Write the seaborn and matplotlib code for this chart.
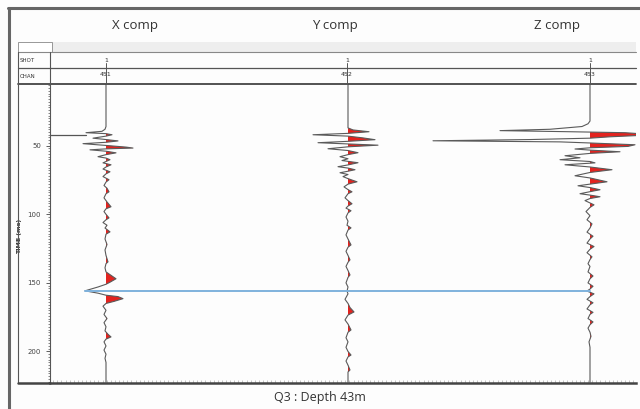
"""
VSP three-component wiggle display, Q3 : Depth 43m
"""

import matplotlib
matplotlib.use("Agg")
import matplotlib.pyplot as plt
from matplotlib import ticker
from matplotlib.lines import Line2D
import numpy as np
import pandas as pd
import seaborn as sns

sns.set_style("white")
plt.rcParams["font.family"] = ["DejaVu Sans"]

# ---- data (time in ms, amplitude as trace deflection) ----
components = ["X comp", "Y comp", "Z comp"]
shots = ["1", "1", "1"]
channels = ["451", "452", "453"]

x_time = [5, 36, 38, 39.5, 40.5, 41.2, 42, 43, 44.5, 45.5, 46.5, 47.5, 48.5, 49.8, 51, 51.7, 52.3, 53,
          54, 55.2, 56.5, 58, 59, 60.2, 61.5, 62.5, 63.9, 65.5, 67, 69, 70.5, 72.5, 74.8, 76.5, 79, 81,
          83.6, 85, 88, 91, 94.5, 96, 98, 100, 102.6, 104, 106, 108, 110, 112.8, 114.5, 118, 122, 126,
          130, 134.7, 136, 139, 142, 144, 147, 149.5, 151, 153, 155.8, 157.5, 159, 160, 161.5, 163.5,
          165, 167, 170, 173, 176, 179, 182, 185, 187.5, 189.4, 191, 193, 196, 199, 202, 205, 208, 223]
x_amp = [0, 0, -1, -4, -20, 0, 6, 0, -13, 0, 12, 0, -23, 0, 20, 27, 0, -16,
         0, 10, 0, -8, 0, 4, 0, -3, 5, 0, -3, 4, 0, -3, 3, 0, -2, 1,
         3, 0, -2, 1, 5, 0, -2, 0, 3, 0, -3, 1, -1, 4, 0, -1, 1, -1,
         0, 2, 0, -1, 0, 4, 10, 4, 0, -8, -21, -8, 0, 12, 17, 8,
         0, -3, 0, -2, 1, -2, 0, -1, 2, 5, 0, -2, 0, -2, 0, -1, 0, 0]

y_time = [5, 37, 38.5, 39.8, 41, 42, 43, 44.3, 45.6, 46.8, 47.8, 48.7, 49.6, 50.8, 52.2, 53.5, 55.1,
          56.5, 58, 59.5, 60.8, 62.4, 64, 65.3, 66.3, 67.5, 68.6, 69.7, 71, 72.5, 74, 76.3, 78, 80,
          82, 83.6, 85, 88, 90, 92.3, 94, 95.5, 97.4, 99, 102, 105, 108, 109.9, 111.5, 115, 118,
          122.3, 124, 127, 130, 133.2, 135, 138, 141, 144.2, 146, 150, 153, 156, 158, 162, 165, 168,
          171.2, 173.5, 177, 180, 184.3, 186, 190, 193, 197, 200, 202.6, 204, 207, 210, 213.5, 215, 223]
y_amp = [0, 0, 5, 21, 0, -35, 0, 15, 27, 0, -30, 0, 30, 0, -20, 0, 10,
         0, -8, 0, -6, 10, 0, -10, 0, 7, 0, -8, 0, -5, 0, 9, 0, -4,
         0, 4, 0, -3, 0, 4, 0, -2, 3, 0, -2, 0, -1, 3, 0, -2, 0,
         3, 0, -2, 0, 2, 0, -2, 0, 2, 0, -2, 0, -1, 0, -3, 0, 2,
         6, 0, -3, 0, 3, 0, -2, 0, -2, 0, 3, 0, -2, 0, 2, 0, 0]

z_time = [5, 32, 34, 36, 38, 39, 39.8, 40.5, 41.5, 42.5, 43.5, 44.5, 45.5, 46.4, 47.2, 48, 49.3,
          50.5, 51.5, 52.4, 53.2, 54.4, 55.6, 57.3, 58.8, 60.2, 61.5, 62.5, 63.9, 65.5, 67.5, 69.5,
          71.9, 73.5, 76.3, 78, 79.2, 80.5, 82.1, 83.5, 85, 86, 87.2, 88.5, 90, 93.1, 95, 98, 101,
          104, 107, 110, 113, 116, 118, 121, 123.5, 125.5, 128, 131, 133, 136, 138, 142, 145, 147,
          150, 152.5, 154.5, 156, 158, 160, 162, 164.5, 166, 169, 171.5, 173, 176, 178.5, 180.5,
          183, 186, 189, 193, 197, 223]
z_amp = [0, 0, -2, -8, -40, -90, -20, 35, 55, 50, 20, 0, -60, -157, -30, 0, 45,
         38, 0, -15, 0, 30, 0, -25, -10, -30, 0, 5, -25, 0, 22, 0,
         -15, 0, 17, 0, -12, 0, 10, 0, -10, 0, 10, 0, -5, 4, 0, -4, 0,
         -3, 2, 0, -3, 3, 0, -3, 4, 0, -3, 2, 0, -2, 0, -2, 3, 0,
         -2, 3, 0, -3, 4, 0, -3, 3, 0, -3, 3, 0, -2, 3, 0,
         -2, 0, 1, -1, 0, 0]

first_break_time = 42      # pick on X trace
event_time = 155.8         # blue horizon across the traces

times = [x_time, y_time, z_time]
amps = [x_amp, y_amp, z_amp]

# ---- figure geometry (pixels of a 640x409 screen grab) ----
W, H = 640, 409
SPACING = 242.0            # pixels between traces
def fx(px):
    return px / W
def fy(py):
    return 1 - py / H

fig = plt.figure(figsize=(6.4, 4.09), dpi=100)
fig.patch.set_facecolor("#fdfdfd")

ax = fig.add_axes([fx(50), fy(383), fx(636) - fx(50), fy(84) - fy(383)])
ax.set_facecolor("#fdfdfd")

for i in range(3):
    pos = i + 1
    t = np.array(times[i], dtype=float)
    a = np.array(amps[i], dtype=float) / SPACING
    df = pd.DataFrame({"x": pos + a, "t": t})
    ax.fill_betweenx(t, pos, pos + a, where=a > 0, interpolate=True,
                     color="#e3231f", linewidth=0, zorder=2)
    sns.lineplot(data=df, x="x", y="t", orient="y", sort=False, estimator=None,
                 color="#5a5a5a", linewidth=0.8, ax=ax, zorder=3)

xmin = 1 - 56 / SPACING
xmax = 3 + 46 / SPACING
ax.set_xlim(xmin, xmax)
ax.set_ylim(223, 5)

# picks
ax.plot([xmin, 1 - 20 / SPACING], [first_break_time, first_break_time],
        color="#555555", linewidth=0.9, zorder=4)
ax.plot([1 - 21 / SPACING, 3], [event_time, event_time],
        color="#7fb2dd", linewidth=1.4, zorder=4)

ax.set_xlabel("")
ax.set_ylabel("TIME (ms)", fontsize=4.5, fontweight="bold", color="#333333")
ax.yaxis.set_label_coords((22 - 50) / 586, 0.49)
ax.yaxis.set_major_locator(ticker.FixedLocator([50, 100, 150, 200]))
ax.yaxis.set_minor_locator(ticker.MultipleLocator(2))
ax.tick_params(axis="y", which="major", labelsize=5, colors="#444444", length=3, width=0.6, direction="out", left=True)
ax.tick_params(axis="y", which="minor", length=1.5, width=0.5, color="#555555", left=True)
ax.set_xticks([])
ax.xaxis.set_minor_locator(ticker.MultipleLocator(0.017))
ax.tick_params(axis="x", which="minor", length=2, width=0.4, color="#999999", direction="in", bottom=True)
for side in ["top", "right"]:
    ax.spines[side].set_visible(False)
ax.spines["left"].set_color("#555555")
ax.spines["left"].set_linewidth(0.8)
ax.spines["bottom"].set_color("#444444")
ax.spines["bottom"].set_linewidth(1.8)

# ---- header table and window frame ----
def hline(y, x0, x1, lw=0.8, c="#555555"):
    fig.add_artist(Line2D([fx(x0), fx(x1)], [fy(y), fy(y)], color=c, linewidth=lw))
def vline(x, y0, y1, lw=0.8, c="#555555"):
    fig.add_artist(Line2D([fx(x), fx(x)], [fy(y0), fy(y1)], color=c, linewidth=lw))

fig.add_artist(plt.Rectangle((fx(52), fy(52)), fx(636) - fx(52), fy(42) - fy(52),
                             transform=fig.transFigure, facecolor="#eeeeee", edgecolor="none"))
fig.add_artist(plt.Rectangle((fx(18), fy(52)), fx(52) - fx(18), fy(42) - fy(52),
                             transform=fig.transFigure, facecolor="white", edgecolor="#888888", linewidth=0.6))
hline(52, 18, 636, 0.8, "#888888")
hline(68, 18, 636, 0.9)
hline(84, 18, 636, 1.3, "#444444")
vline(18, 52, 383, 0.8)
vline(50, 52, 84, 0.8)
hline(383, 18, 50, 1.8, "#444444")

fig.text(fx(20), fy(60), "SHOT", fontsize=4, va="center", color="#333333")
fig.text(fx(20), fy(76), "CHAN", fontsize=4, va="center", color="#333333")
for i, px in enumerate([106, 347, 590]):
    fig.text(fx(px), fy(60), shots[i], fontsize=4.5, ha="center", va="center", color="#333333")
    fig.text(fx(px), fy(75), channels[i], fontsize=4.5, ha="center", va="center", color="#333333")
    vline(px, 63, 84, 0.7)

for comp, px in zip(components, [135, 335, 557]):
    fig.text(fx(px), fy(25), comp, fontsize=9.5, ha="center", va="center",
             color="#333333", family=["Open Sans", "DejaVu Sans"])

fig.text(fx(320), fy(398), "Q3 : Depth 43m", fontsize=9, ha="center", va="center",
         color="#333333", family=["Open Sans", "DejaVu Sans"])

# window border
hline(8, 8, 640, 2.2, "#666666")
vline(9, 8, 409, 2.2, "#666666")

plt.savefig("out.png", dpi=100, facecolor=fig.get_facecolor())
